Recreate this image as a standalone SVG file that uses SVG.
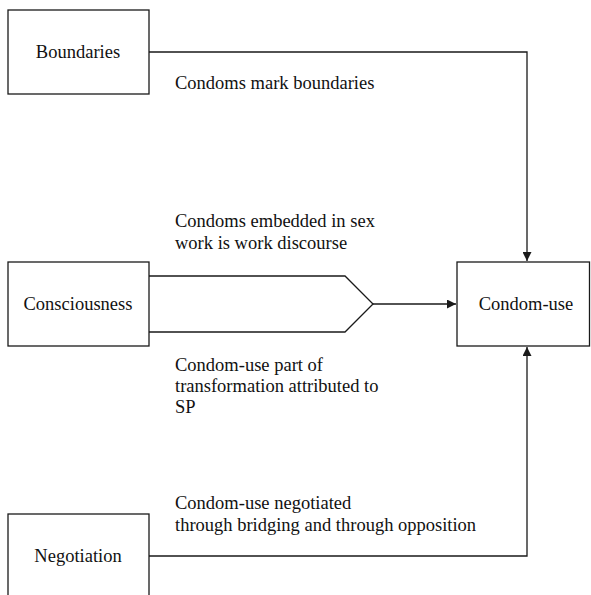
<svg xmlns="http://www.w3.org/2000/svg" width="591" height="595" viewBox="0 0 591 595">
<defs>
<marker id="ah" viewBox="0 0 10 10" refX="10" refY="5" markerWidth="9" markerHeight="9" markerUnits="userSpaceOnUse" orient="auto">
<path d="M0,0 L10,5 L0,10 z" fill="#1a1a1a"/>
</marker>
<style>
.box{fill:#fff;stroke:#1a1a1a;stroke-width:1.3}
.ln{fill:none;stroke:#1a1a1a;stroke-width:1.3}
text{font-family:"Liberation Serif","Times New Roman",serif;font-size:18.5px;fill:#111}
.c{text-anchor:middle}
</style>
</defs>
<rect width="591" height="595" fill="#fff"/>
<g id="connectors">
<path class="ln" d="M149,52 H527 V261" marker-end="url(#ah)"/>
<path class="ln" d="M149,276 H345 L373,304 L345,332 H149"/>
<path class="ln" d="M373,304 H456" marker-end="url(#ah)"/>
<path class="ln" d="M149,556 H527 V347" marker-end="url(#ah)"/>
</g>
<g id="labels">
<text x="175" y="89">Condoms mark boundaries</text>
<text x="175" y="227">Condoms embedded in sex</text>
<text x="175" y="249">work is work discourse</text>
<text x="175" y="371">Condom-use part of</text>
<text x="175" y="392">transformation attributed to</text>
<text x="175" y="413">SP</text>
<text x="175" y="509">Condom-use negotiated</text>
<text x="175" y="531">through bridging and through opposition</text>
</g>
<g id="boundaries">
<rect class="box" x="8" y="10" width="141" height="84"/>
<text class="c" x="78" y="58">Boundaries</text>
</g>
<g id="consciousness">
<rect class="box" x="8" y="262" width="141" height="84"/>
<text class="c" x="78" y="310">Consciousness</text>
</g>
<g id="condom-use">
<rect class="box" x="457" y="262" width="132.5" height="84"/>
<text class="c" x="526" y="310">Condom-use</text>
</g>
<g id="negotiation">
<rect class="box" x="8" y="514" width="141" height="100"/>
<text class="c" x="78" y="562">Negotiation</text>
</g>
</svg>
